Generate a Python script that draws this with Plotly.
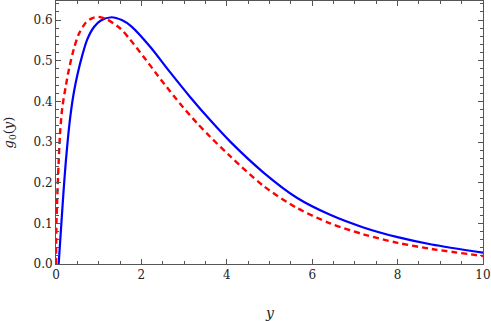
import plotly.graph_objects as go

blue_x = [0.062, 0.11, 0.15, 0.19, 0.23, 0.29, 0.344, 0.42, 0.50, 0.62, 0.73, 0.89, 1.05, 1.30,
          1.54, 1.77, 2.20, 2.67, 3.14, 3.61, 4.08, 4.86, 5.64, 6.42, 7.20, 8.00, 8.80, 10.0]
blue_v = [0.0, 0.075, 0.138, 0.198, 0.252, 0.32, 0.37, 0.423, 0.465, 0.515, 0.552, 0.583, 0.599, 0.607,
          0.600, 0.584, 0.535, 0.472, 0.411, 0.354, 0.301, 0.225, 0.163, 0.121, 0.090, 0.066, 0.048, 0.028]

red_x = [0.0, 0.01, 0.03, 0.06, 0.094, 0.148, 0.227, 0.305, 0.42, 0.54, 0.70, 0.85, 0.99, 1.19,
         1.50, 1.73, 2.05, 2.36, 2.67, 2.98, 3.30, 3.61, 4.06, 4.86, 5.64, 6.42, 7.20, 8.00, 8.80, 10.0]
red_v = [0.0, 0.10, 0.165, 0.245, 0.32, 0.385, 0.436, 0.48, 0.53, 0.567, 0.594, 0.605, 0.608, 0.602,
         0.580, 0.553, 0.510, 0.467, 0.425, 0.385, 0.347, 0.313, 0.267, 0.192, 0.138, 0.100, 0.073, 0.052,
         0.037, 0.0197]

x_ticks = [0, 2, 4, 6, 8, 10]
y_ticks = [0.0, 0.1, 0.2, 0.3, 0.4, 0.5, 0.6]
y_ticklabels = ["0.0", "0.1", "0.2", "0.3", "0.4", "0.5", "0.6"]

FONT = "DejaVu Serif"
FRAME = "#555555"
TXT = "#222222"

fig = go.Figure()
fig.add_trace(go.Scatter(x=blue_x, y=blue_v, mode="lines",
                         line=dict(color="#0000FF", width=2.2, shape="spline", smoothing=0.8),
                         showlegend=False))
fig.add_trace(go.Scatter(x=red_x, y=red_v, mode="lines",
                         line=dict(color="#FF0000", width=2.4, dash="6px,4px", shape="spline", smoothing=0.8),
                         showlegend=False))

axis_common = dict(showline=True, linecolor=FRAME, linewidth=1, mirror="allticks", ticks="inside",
                   ticklen=5, tickcolor=FRAME, tickwidth=1, showgrid=False, zeroline=False,
                   automargin=False, ticklabeloverflow="allow",
                   tickfont=dict(family=FONT, size=12, color=TXT))

fig.update_xaxes(range=[0, 10], tickvals=x_ticks, ticktext=[str(v) for v in x_ticks],
                 minor=dict(dtick=0.5, ticks="inside", ticklen=3, tickcolor=FRAME, showgrid=False),
                 **axis_common)
fig.update_yaxes(range=[0, 0.647], tickvals=y_ticks, ticktext=y_ticklabels,
                 minor=dict(dtick=0.02, ticks="inside", ticklen=3, tickcolor=FRAME, showgrid=False),
                 **axis_common)

fig.add_annotation(text="<i>y</i>", xref="paper", yref="paper", x=0.5, y=-0.185, yanchor="middle",
                   showarrow=False, font=dict(family=FONT, size=14, color=TXT))
fig.add_annotation(text="<i>g</i><sub>0</sub>(<i>y</i>)", xref="paper", yref="paper", x=-0.108, y=0.5,
                   xanchor="center", yanchor="middle", textangle=-90,
                   showarrow=False, font=dict(family=FONT, size=13, color=TXT))

fig.update_layout(width=491, height=321, margin=dict(l=56, r=8, t=1, b=57),
                  font=dict(family=FONT, color=TXT),
                  plot_bgcolor="white", paper_bgcolor="white")

fig.write_html("out.html", config={"displayModeBar": False},
               post_script="document.body.style.margin='0';document.body.style.overflow='hidden';")
